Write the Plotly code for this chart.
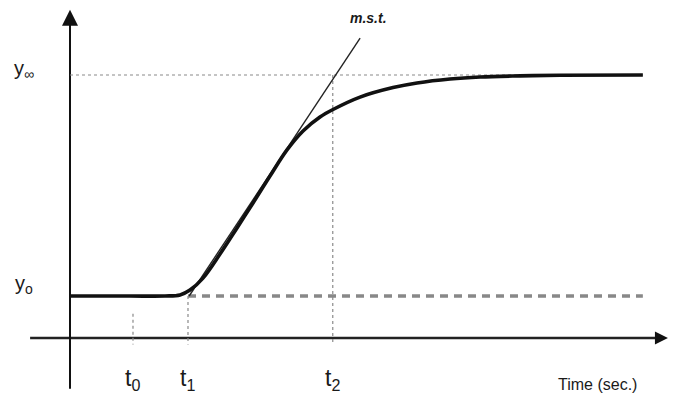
import plotly.graph_objects as go

# ---- data (time in s, normalised output) ----
t_curve = [0.0, 1.05, 1.667, 1.93, 2.105, 2.333, 2.632, 2.93, 3.211, 3.509, 3.807, 4.088, 4.386,
           4.614, 5.088, 5.667, 6.088, 6.667, 7.193, 7.895, 8.596, 10.05]
y_curve = [0.0, 0.0, 0.0, 0.005, 0.027, 0.081, 0.190, 0.308, 0.421, 0.543, 0.661, 0.747, 0.810,
           0.844, 0.900, 0.943, 0.964, 0.982, 0.991, 0.996, 0.999, 1.0]

y0_level = 0.0
yinf_level = 1.0
t_end = 10.05

t_marks = [1.105, 2.07, 4.61]
t_labels = ["t<sub>0</sub>", "t<sub>1</sub>", "t<sub>2</sub>"]

mst_t = [2.09, 5.09]
mst_y = [0.0, 1.167]

FONT = "Liberation Sans Narrow, Liberation Sans, Arial"

fig = go.Figure()

axis_y = -0.19
# axes
fig.add_trace(go.Scatter(x=[-0.70, 10.40], y=[axis_y, axis_y], mode="lines",
                         line=dict(color="#222222", width=2.4), hoverinfo="skip"))
fig.add_trace(go.Scatter(x=[10.49], y=[axis_y], mode="markers",
                         marker=dict(symbol="arrow-right", size=13, color="#111111"), hoverinfo="skip"))
fig.add_trace(go.Scatter(x=[0, 0], y=[-0.42, 1.25], mode="lines",
                         line=dict(color="#111111", width=2), hoverinfo="skip"))
fig.add_trace(go.Scatter(x=[0], y=[1.295], mode="markers",
                         marker=dict(symbol="arrow-up", size=16, color="#111111"), hoverinfo="skip"))

# y_inf dotted reference
fig.add_trace(go.Scatter(x=[0, t_end], y=[yinf_level, yinf_level], mode="lines",
                         line=dict(color="#8a8a8a", width=1.2, dash="dot"), hoverinfo="skip"))
# y0 dashed reference
fig.add_trace(go.Scatter(x=[t_marks[1], t_end], y=[y0_level, y0_level], mode="lines",
                         line=dict(color="#888888", width=3.5, dash="8px,6px"), hoverinfo="skip"))
# vertical dotted lines
fig.add_trace(go.Scatter(x=[t_marks[0], t_marks[0]], y=[-0.08, axis_y - 0.03], mode="lines",
                         line=dict(color="#8a8a8a", width=1.2, dash="dot"), hoverinfo="skip"))
fig.add_trace(go.Scatter(x=[t_marks[1], t_marks[1]], y=[y0_level, axis_y - 0.03], mode="lines",
                         line=dict(color="#8a8a8a", width=1.2, dash="dot"), hoverinfo="skip"))
fig.add_trace(go.Scatter(x=[t_marks[2], t_marks[2]], y=[yinf_level, axis_y - 0.03], mode="lines",
                         line=dict(color="#8a8a8a", width=1.2, dash="dot"), hoverinfo="skip"))
# tangent (m.s.t.)
fig.add_trace(go.Scatter(x=mst_t, y=mst_y, mode="lines",
                         line=dict(color="#222222", width=1.4), hoverinfo="skip"))
# response curve
fig.add_trace(go.Scatter(x=t_curve, y=y_curve, mode="lines",
                         line=dict(color="#111111", width=3.6, shape="spline", smoothing=1.0),
                         hoverinfo="skip"))

annotations = []
annotations.append(dict(x=-0.80, y=yinf_level + 0.025, xref="x", yref="y", text="y<sub>∞</sub>",
                        showarrow=False, font=dict(family=FONT, size=20, color="#1a1a1a")))
annotations.append(dict(x=-0.80, y=y0_level + 0.05, xref="x", yref="y", text="y<sub>o</sub>",
                        showarrow=False, font=dict(family=FONT, size=20, color="#1a1a1a")))
for tm, lab in zip(t_marks, t_labels):
    annotations.append(dict(x=tm, y=-0.376, xref="x", yref="y", text=lab, showarrow=False,
                            font=dict(family=FONT, size=23, color="#1a1a1a")))
annotations.append(dict(x=9.25, y=-0.40, xref="x", yref="y", text="Time (sec.)", showarrow=False,
                        font=dict(family=FONT, size=16, color="#1a1a1a")))
annotations.append(dict(x=5.23, y=1.26, xref="x", yref="y", text="<b><i>m.s.t.</i></b>", showarrow=False,
                        font=dict(family=FONT, size=14, color="#1a1a1a")))

fig.update_layout(
    width=677, height=399,
    margin=dict(l=0, r=0, t=0, b=0),
    paper_bgcolor="white", plot_bgcolor="white",
    showlegend=False,
    xaxis=dict(range=[-70 / 57, 607 / 57], visible=False, fixedrange=True),
    yaxis=dict(range=[-(399 - 296) / 221, 296 / 221], visible=False, fixedrange=True),
    annotations=annotations,
)

fig.write_html("out.html", config={"displayModeBar": False},
               post_script="document.body.style.margin='0px';")
